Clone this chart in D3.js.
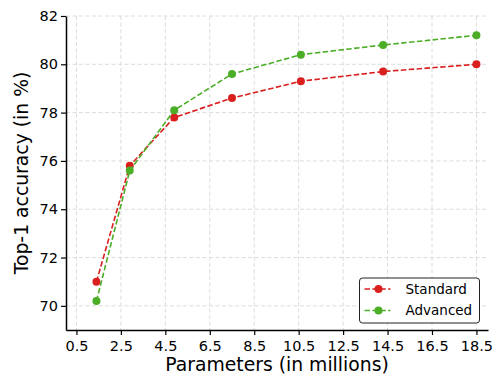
<!DOCTYPE html>
<html>
<head>
<meta charset="utf-8">
<script src="https://cdn.jsdelivr.net/npm/d3@7"></script>
<style>
  body { margin: 0; background: #fff; }
  svg { font-family: "DejaVu Sans", sans-serif; }
</style>
</head>
<body>
<svg width="496" height="377"></svg>
<script>
// data
var params = [1.4, 2.9, 4.9, 7.5, 10.6, 14.3, 18.5];
var standardAcc = [71.0, 75.8, 77.8, 78.6, 79.3, 79.7, 80.0];
var advancedAcc = [70.2, 75.6, 78.1, 79.6, 80.4, 80.8, 81.2];
var xTicks = [0.5, 2.5, 4.5, 6.5, 8.5, 10.5, 12.5, 14.5, 16.5, 18.5];
var yTicks = [70, 72, 74, 76, 78, 80, 82];
var seriesNames = ["Standard", "Advanced"];
var seriesColors = ["#da1f1f", "#4cae27"];

var margin = {top: 16, right: 8, bottom: 47, left: 66};
var width = 496 - margin.left - margin.right;
var height = 377 - margin.top - margin.bottom;

var svg = d3.select("svg")
            .append("g")
            .attr("transform", "translate(" + margin.left + "," + margin.top + ")");

var x = d3.scaleLinear().domain([0.03, 19.02]).range([0, width]);
var y = d3.scaleLinear().domain([69, 82]).range([height, 0]);

// grid
svg.append("g").selectAll("line")
   .data(xTicks).enter().append("line")
   .attr("x1", d => x(d)).attr("x2", d => x(d))
   .attr("y1", 0).attr("y2", height)
   .attr("stroke", "#dcdcdc").attr("stroke-width", 1)
   .attr("stroke-dasharray", "4,2.5");
svg.append("g").selectAll("line")
   .data(yTicks).enter().append("line")
   .attr("x1", 0).attr("x2", width)
   .attr("y1", d => y(d)).attr("y2", d => y(d))
   .attr("stroke", "#dcdcdc").attr("stroke-width", 1)
   .attr("stroke-dasharray", "4,2.5");

// axes
var xAxis = svg.append("g")
   .attr("transform", "translate(0," + height + ")")
   .call(d3.axisBottom(x).tickValues(xTicks).tickFormat(d3.format(".1f")).tickSize(5).tickSizeOuter(0));
var yAxis = svg.append("g")
   .call(d3.axisLeft(y).tickValues(yTicks).tickSize(5).tickSizeOuter(0));
[xAxis, yAxis].forEach(function(a) {
    a.select(".domain").attr("stroke", "#000").attr("stroke-width", 1.5);
    a.selectAll(".tick line").attr("stroke", "#000").attr("stroke-width", 1.2);
    a.selectAll(".tick text").attr("fill", "#000")
     .style("font-size", "14.5px").style("font-family", "DejaVu Sans");
});
xAxis.selectAll(".tick text").attr("dy", "0.93em");
yAxis.selectAll(".tick text").attr("x", -8);

// axis labels
svg.append("text")
   .attr("x", width / 2).attr("y", height + 41)
   .attr("text-anchor", "middle")
   .style("font-size", "18.8px")
   .text("Parameters (in millions)");
svg.append("text")
   .attr("transform", "rotate(-90)")
   .attr("x", -height / 2).attr("y", -38)
   .attr("text-anchor", "middle")
   .style("font-size", "18.8px")
   .text("Top-1 accuracy (in %)");

// lines and dots
var line = d3.line().x(d => x(d[0])).y(d => y(d[1]));
[standardAcc, advancedAcc].forEach(function(vals, i) {
    var pts = params.map((p, j) => [p, vals[j]]);
    svg.append("path")
       .datum(pts)
       .attr("d", line)
       .attr("fill", "none")
       .attr("stroke", seriesColors[i])
       .attr("stroke-width", 1.6)
       .attr("stroke-dasharray", "5.5,2.4");
    svg.append("g").selectAll("circle")
       .data(pts).enter().append("circle")
       .attr("cx", d => x(d[0]))
       .attr("cy", d => y(d[1]))
       .attr("r", 4)
       .attr("fill", seriesColors[i]);
});

// legend
var legend = svg.append("g")
   .attr("transform", "translate(" + (359.5 - margin.left) + "," + (278 - margin.top) + ")");
legend.append("rect")
   .attr("width", 120).attr("height", 45)
   .attr("rx", 3).attr("ry", 3)
   .attr("fill", "#fff").attr("stroke", "#222").attr("stroke-width", 1);
seriesNames.forEach(function(name, i) {
    var row = legend.append("g").attr("transform", "translate(0," + (11 + i * 21.5) + ")");
    row.append("line")
       .attr("x1", 5).attr("x2", 31)
       .attr("stroke", seriesColors[i]).attr("stroke-width", 1.6)
       .attr("stroke-dasharray", "5.5,2.4");
    row.append("circle").attr("cx", 19).attr("r", 4).attr("fill", seriesColors[i]);
    row.append("text")
       .attr("x", 46).attr("dy", "0.35em")
       .style("font-size", "13.5px")
       .text(name);
});
</script>
</body>
</html>
